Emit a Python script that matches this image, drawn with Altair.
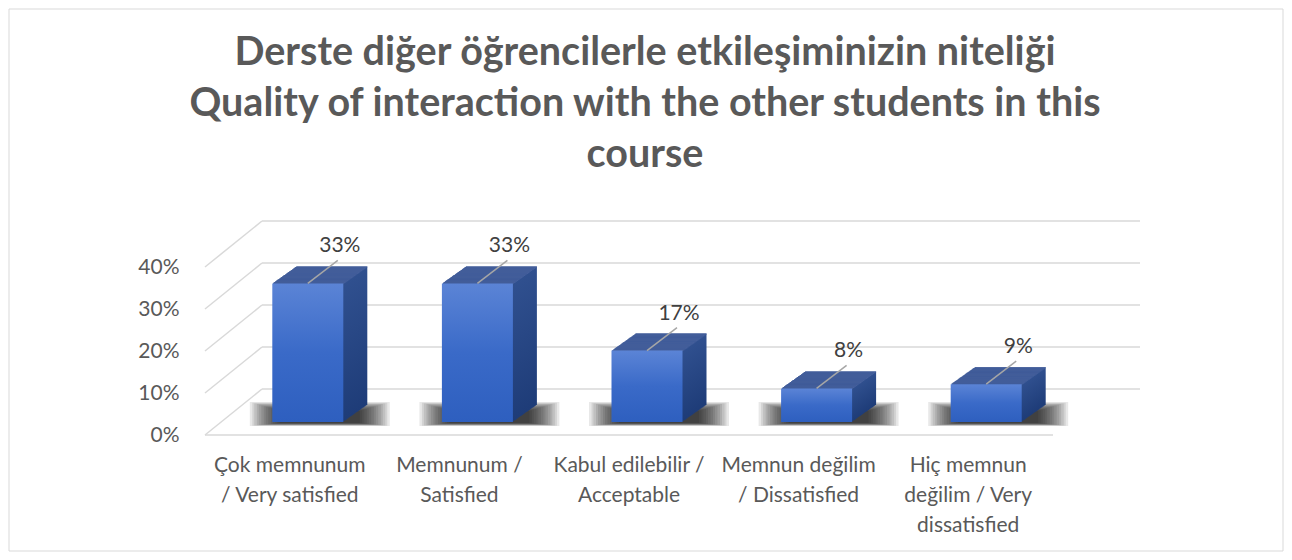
import altair as alt
import pandas as pd

# ---- data ----
categories = [
    "Çok memnunum\n/ Very satisfied",
    "Memnunum /\nSatisfied",
    "Kabul edilebilir /\nAcceptable",
    "Memnun değilim\n/ Dissatisfied",
    "Hiç memnun\ndeğilim / Very\ndissatisfied",
]
values = [0.33, 0.33, 0.17, 0.08, 0.09]
labels = ["33%", "33%", "17%", "8%", "9%"]
ticks = [0.0, 0.1, 0.2, 0.3, 0.4]
title_lines = ["Derste diğer öğrencilerle etkileşiminizin niteliği",
               "Quality of interaction with the other students in this",
               "course"]

df = pd.DataFrame({"cat": categories, "val": values, "lab": labels})
tick_df = pd.DataFrame({"t": ticks})
one = pd.DataFrame({"a": [0]})

W, H = 848, 168
PAD_L, PAD_T, PAD_R, PAD_B = 197, 259, 231, 117

FONT = "Lato"
GRID = "#d9d9d9"

xs = alt.X("cat:N", sort=categories,
           scale=alt.Scale(paddingInner=0.58, paddingOuter=0.29),
           axis=alt.Axis(title=None, domain=False, ticks=False, labelAngle=0,
                         labelExpr="split(datum.label, '\\n')",
                         labelFontSize=21, labelFont=FONT, labelColor="#595959",
                         labelPadding=19, labelLineHeight=30, labelBaseline="top",
                         grid=False))
yscale = alt.Scale(domain=[0, 0.4], nice=False)

# frame around the whole chart
frame = alt.Chart(one).mark_rect(fill=None, stroke="#d9d9d9", strokeWidth=1).encode(
    x=alt.value(-PAD_L + 1), x2=alt.value(W + PAD_R - 1),
    y=alt.value(-PAD_T + 1), y2=alt.value(H + PAD_B - 1))

# title as text
title = alt.Chart(one).mark_text(text=title_lines, font=FONT, fontSize=39.5, fontWeight="bold",
                                 color="#595959", lineHeight=51, align="center",
                                 baseline="alphabetic").encode(
    x=alt.value(W / 2 + 16), y=alt.value(-202))

DX, DY = 57, -46
# back wall lines
back = alt.Chart(tick_df).mark_rule(color=GRID, strokeWidth=1.5, yOffset=DY).encode(
    y=alt.Y("t:Q", scale=yscale),
    x=alt.value(DX), x2=alt.value(W + 87))
# side wall diagonals
diag = alt.Chart(tick_df).mark_rule(color=GRID, strokeWidth=1.5, y2Offset=DY).encode(
    y=alt.Y("t:Q", scale=yscale), y2="t:Q",
    x=alt.value(0), x2=alt.value(DX))
# floor front edge
floor = alt.Chart(pd.DataFrame({"t": [0.0]})).mark_rule(color=GRID, strokeWidth=1.5).encode(
    y=alt.Y("t:Q", scale=yscale), x=alt.value(0), x2=alt.value(W))

# y axis holder
yaxis = alt.Chart(tick_df).mark_rule(opacity=0).encode(
    y=alt.Y("t:Q", scale=yscale,
            axis=alt.Axis(title=None, format=".0%", values=ticks, domain=False, ticks=False,
                          grid=False, labelFontSize=21, labelFont=FONT, labelColor="#595959",
                          labelPadding=26)))

BX, BY = 18, -13  # bar front face offset (3D perspective)
N = 24
DEPTH_X, DEPTH_Y = 24.0, -17.0
SIDE = alt.Gradient(gradient="linear", x1=0, y1=0, x2=0, y2=1,
                    stops=[alt.GradientStop(color="#30508f", offset=0),
                           alt.GradientStop(color="#1e3c78", offset=1)])
TOP = "#47619d"
FRONT = alt.Gradient(gradient="linear", x1=0, y1=0, x2=0, y2=1,
                     stops=[alt.GradientStop(color="#5b84d6", offset=0),
                            alt.GradientStop(color="#3a6ac8", offset=0.5),
                            alt.GradientStop(color="#2e5fbf", offset=1)])

base = alt.Chart(df)

layers = [frame, title, back, diag, floor, yaxis]

# soft floor shadow built from stacked translucent bands
NS = 14
for i in range(NS):
    f = i / (NS - 1)
    size = int(round(140 - 60 * f))
    top = -33 + 9 * f
    bot = -9 - 3 * f
    layers.append(base.mark_bar(size=size, color="#000000", opacity=0.09,
                                xOffset=BX + 12, yOffset=top, y2Offset=bot).encode(
        x=xs, y=alt.datum(0, scale=yscale), y2=alt.datum(0)))

step_y = abs(DEPTH_Y) / N
for k in range(N, 0, -1):
    ox = BX + DEPTH_X * k / N
    oy = BY + DEPTH_Y * k / N
    layers.append(base.mark_bar(size=71, fill=SIDE, xOffset=ox, yOffset=oy, y2Offset=oy).encode(
        x=xs, y=alt.Y("val:Q", scale=yscale), y2=alt.datum(0)))
    layers.append(base.mark_bar(size=71, fill=TOP, xOffset=ox, yOffset=oy,
                                y2Offset=oy + step_y + 0.4).encode(
        x=xs, y=alt.Y("val:Q", scale=yscale), y2="val:Q"))

front = base.mark_bar(size=71, fill=FRONT, xOffset=BX, yOffset=BY, y2Offset=BY).encode(
    x=xs, y=alt.Y("val:Q", scale=yscale), y2=alt.datum(0))
layers.append(front)

leader = base.mark_rule(color="#a6a6a6", strokeWidth=1.5, xOffset=BX, yOffset=BY,
                        x2Offset=BX + 30, y2Offset=BY - 23).encode(
    x=xs, x2="cat:N", y=alt.Y("val:Q", scale=yscale), y2="val:Q")
text = base.mark_text(font=FONT, fontSize=21, color="#404040", dx=BX + 32, dy=BY - 37).encode(
    x=xs, y=alt.Y("val:Q", scale=yscale), text="lab:N")
layers += [leader, text]

chart = alt.layer(*layers).properties(
    width=W, height=H,
    padding={"left": PAD_L, "top": PAD_T, "right": PAD_R, "bottom": PAD_B},
    autosize=alt.AutoSizeParams(type="none"),
    background="white",
).configure_view(stroke=None)

chart.save("out.html", embed_options={"renderer": "svg", "actions": False})
